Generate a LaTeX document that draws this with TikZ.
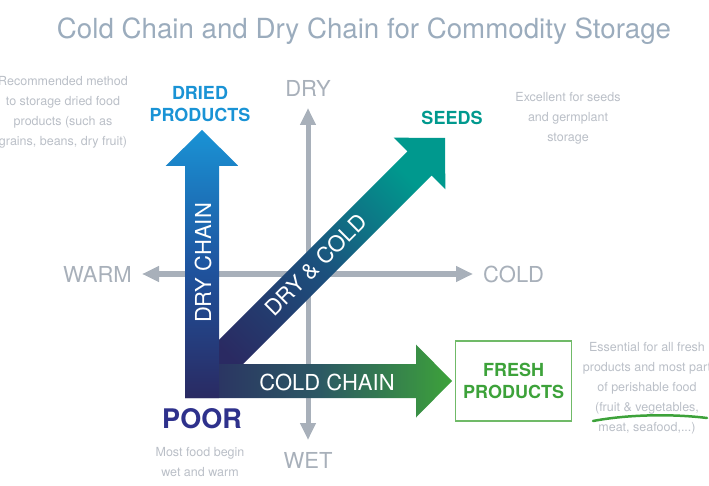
\documentclass[tikz,border=0pt]{standalone}
\usepackage{fontspec}
\setmainfont{TeX Gyre Heros}
\usepackage{xcolor}
\usetikzlibrary{arrows.meta,positioning}
\definecolor{navy}{RGB}{42,42,98}
\definecolor{skyblue}{RGB}{26,147,213}
\definecolor{seedteal}{RGB}{0,153,142}
\definecolor{freshgreen}{RGB}{61,162,58}
\definecolor{boxgreen}{RGB}{112,186,104}
\definecolor{poornavy}{RGB}{46,49,140}
\definecolor{titlegray}{RGB}{155,172,189}
\definecolor{axisgray}{RGB}{168,176,186}
\definecolor{notegray}{RGB}{186,191,199}

\begin{document}
\begin{tikzpicture}[
    x=1pt, y=-1pt,
    node distance=10pt,
    axisline/.style={draw=axisgray, line width=5pt, {Triangle[width=15pt,length=17pt]}-{Triangle[width=15pt,length=17pt]}},
    axislabel/.style={text=axisgray, font=\fontsize{22}{22}\selectfont, inner sep=0pt},
    chain/.style={text=white, font=\fontsize{22}{22}\selectfont, inner sep=0pt},
    goal/.style={font=\bfseries\fontsize{18}{22}\selectfont, align=center, inner sep=0pt},
    note/.style={text=notegray, font=\fontsize{12.5}{20}\selectfont, align=center, inner sep=0pt}
]
    \useasboundingbox (0,0) rectangle (709,486);

    \node[font=\fontsize{27.7}{30}\selectfont, text=titlegray, inner sep=0pt] (title) at (364,31) {Cold Chain and Dry Chain for Commodity Storage};

    % axes
    \coordinate (dry) at (308,108);
    \coordinate (wet) at (308,440);
    \coordinate (warm) at (142,274);
    \coordinate (cold) at (473,274);
    \draw[axisline] (wet) -- (dry);
    \draw[axisline] (warm) -- (cold);
    \node[axislabel, above=11pt of dry] (lbldry) {DRY};
    \node[axislabel, below=12pt of wet] (lblwet) {WET};
    \node[axislabel, left=10pt of warm] (lblwarm) {WARM};
    \node[axislabel, right=10pt of cold] (lblcold) {COLD};

    % chain arrows
    \coordinate (o) at (202,381);
    \coordinate (corner) at (202,398);
    \coordinate (drytip) at (202,130);
    \coordinate (seedtip) at (445,138);
    \coordinate (freshtip) at (452,381);
    \shade[top color=seedteal, bottom color=navy, middle color={rgb,255:red,28;green,80;blue,125}, shading angle=-45]
        (189.98,368.98) -- (407.52,151.44) -- (393.73,137.65) -- (seedtip) -- (445.35,189.27) -- (431.56,175.48) -- (214.02,393.02) -- cycle;
    \shade[left color=navy, right color=freshgreen, middle color={rgb,255:red,44;green,88;blue,100}]
        (185,364) -- (416,364) -- (416,344.5) -- (freshtip) -- (416,417.5) -- (416,398) -- (185,398) -- cycle;
    \shade[top color=skyblue, bottom color=navy, middle color={rgb,255:red,30;green,85;blue,160}]
        (185,398) -- (219,398) -- (219,166) -- (238.5,166) -- (drytip) -- (165.5,166) -- (185,166) -- cycle;
    \node[chain, rotate=90] (drychain) at (203,263) {DRY CHAIN};
    \node[chain, rotate=45] (drycold) at (316,265) {DRY \& COLD};
    \node[chain] (coldchain) at (327,382) {COLD CHAIN};

    % end points
    \node[goal, text=skyblue, above=8pt of drytip, xshift=-2pt] (dried) {DRIED\\PRODUCTS};
    \node[goal, text=seedteal, above=13pt of seedtip, xshift=7pt] (seeds) {SEEDS};
    \node[goal, text=freshgreen, draw=boxgreen, line width=1.3pt, minimum width=116pt, minimum height=80pt, right=3pt of freshtip] (fresh) {FRESH\\PRODUCTS};
    \node[font=\bfseries\fontsize{27}{27}\selectfont, text=poornavy, inner sep=0pt, below=10pt of corner] (poor) {POOR};

    % notes
    \node[note] (notedried) at (63,112) {Recommended method\\to storage dried food\\products (such as\\grains, beans, dry fruit)};
    \node[note] (noteseeds) at (568,118) {Excellent for seeds\\and germplant\\storage};
    \node[note] (notefresh) at (647,388) {Essential for all fresh\\products and most part\\of perishable food\\(fruit \& vegetables,\\meat, seafood,...)};
    \node[note] (notepoor) at (200,462) {Most food begin\\wet and warm};
    \draw[freshgreen, line width=2.5pt, line cap=round] (593,421) .. controls (630,414) and (675,414) .. (707,418);
\end{tikzpicture}
\end{document}
